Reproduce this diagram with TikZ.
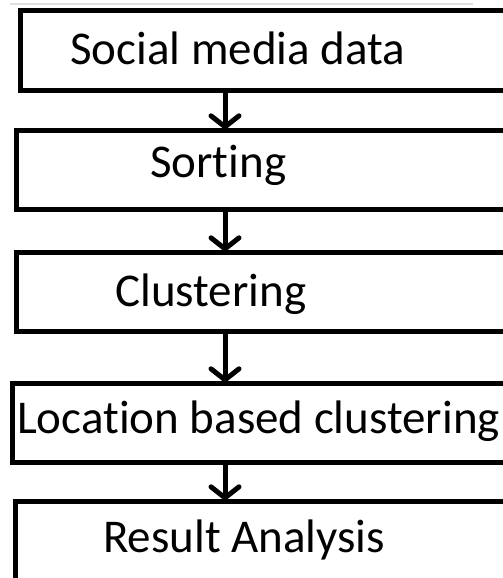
\documentclass[tikz,border=0pt]{standalone}
\usepackage{fontspec}
\setmainfont{Carlito}[Ligatures={NoCommon}]
\usetikzlibrary{arrows.meta}

\tikzset{
    stage/.style={draw, line width=5pt, rectangle, anchor=north west, minimum width=520pt, minimum height=79pt, inner sep=0pt, outer sep=0pt},
    stagetext/.style={anchor=base west, inner sep=0pt, font=\fontsize{47}{56}\selectfont},
    flow/.style={line width=5pt, -{Straight Barb[length=11pt, width=28pt, line cap=round]}}
}

\begin{document}
\begin{tikzpicture}[x=1pt, y=-1pt]
            \useasboundingbox (0,0) rectangle (503,578);
            \clip (0,0) rectangle (503,578);
            \draw[gray!25, line width=1.5pt] (10,4) -- (473,4);

            \node[stage] (data) at (20,11) {};
            \node[stage] (sort) at (16,130) {};
            \node[stage] (clus) at (16,252) {};
            \node[stage] (loc) at (12.5,383) {};
            \node[stage] (res) at (15.5,501) {};

            \node[stagetext] (tdata) at (70,65) {Social media data};
            \node[stagetext] (tsort) at (150,177) {Sorting};
            \node[stagetext] (tclus) at (115,306) {Clustering};
            \node[stagetext] (tloc) at (17,433) {Location based clustering};
            \node[stagetext] (tres) at (103,552) {Result Analysis};

            \coordinate (ax) at (225,0);
            \draw[flow] (data.south -| ax) -- (sort.north -| ax);
            \draw[flow] (sort.south -| ax) -- (clus.north -| ax);
            \draw[flow] (clus.south -| ax) -- (loc.north -| ax);
            \draw[flow] (loc.south -| ax) -- (res.north -| ax);
        \end{tikzpicture}
\end{document}
